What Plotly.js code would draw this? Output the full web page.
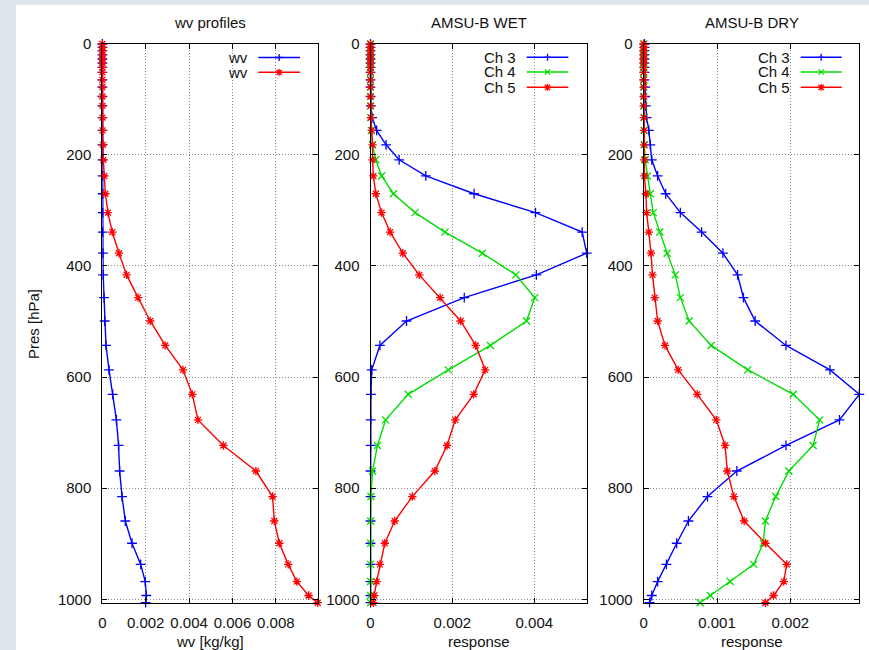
<!DOCTYPE html>
<html>
<head>
<meta charset="utf-8">
<script src="https://cdn.plot.ly/plotly-3.0.1.min.js"></script>
<style>html,body{margin:0;padding:0;background:#dde4ec;}#chart{width:869px;height:650px;}</style>
</head>
<body>
<div id="chart"></div>
<script>
// Pressure levels [hPa]
const pres = [0.5, 6.5, 12.5, 20, 27.5, 35, 42.5, 51.5, 65, 78, 95, 112, 133, 156, 182, 209, 238, 270,
  304, 339, 377, 416, 457, 499, 543, 587, 631, 677, 723, 769, 815, 859, 899, 937, 968, 993, 1006];

// Panel 1: wv profiles [kg/kg]
const wvDry = [0.000003, 0.000003, 0.000003, 0.000003, 0.000003, 0.000003, 0.000003, 0.000003, 0.000003, 0.000004, 0.000004, 0.000005, 0.000006, 0.000008, 0.00001, 0.000012, 0.000015, 0.00002,
  0.00002, 0.00002, 0.00003, 0.00004, 0.00008, 0.00011, 0.00017, 0.00031, 0.00048, 0.00065, 0.00075, 0.0008, 0.00091, 0.00106, 0.00137, 0.00177, 0.00198, 0.00203, 0.002];
const wvWet = [0.000003, 0.000003, 0.000003, 0.000003, 0.000003, 0.000003, 0.000003, 0.000003, 0.000004, 0.000005, 0.000006, 0.000008, 0.00001, 0.000015, 0.00003, 0.00005, 0.00009, 0.00014,
  0.00026, 0.00046, 0.00077, 0.00112, 0.00165, 0.00221, 0.0029, 0.00372, 0.00415, 0.00441, 0.00558, 0.00708, 0.00785, 0.00793, 0.00816, 0.00857, 0.00897, 0.00951, 0.00993];

// Panel 2: AMSU-B WET responses
const wetCh3 = [0, 0, 0, 0, 0, 0, 0, 0, 0, 0, 0.000003, 0.00001, 0.00004, 0.00015, 0.00038, 0.0007, 0.00135, 0.00253,
  0.00403, 0.00517, 0.00528, 0.00405, 0.00229, 0.00088, 0.00023, 0.00003, 0.00001, 0.000005, 0.000003, 0.000002, 0.000002, 0.000001, 0.000001, 0.000001, 0.000001, 0.000001, 0.000001];
const wetCh4 = [0, 0, 0, 0, 0, 0, 0, 0, 0, 0, 0, 0.000002, 0.000005, 0.00002, 0.00005, 0.00013, 0.00027, 0.00056,
  0.00109, 0.00182, 0.00273, 0.00355, 0.00401, 0.00381, 0.00293, 0.0019, 0.00092, 0.00037, 0.00017, 0.00005, 0.00001, 0.000005, 0.000004, 0.000003, 0.000003, 0.000003, 0.000003];
const wetCh5 = [0, 0, 0, 0, 0, 0, 0, 0, 0, 0, 0.000002, 0.000005, 0.00001, 0.00003, 0.00005, 0.00005, 0.00007, 0.00013,
  0.00027, 0.00048, 0.00079, 0.00119, 0.0017, 0.0022, 0.00257, 0.0028, 0.00252, 0.00207, 0.00187, 0.00157, 0.00102, 0.00059, 0.00035, 0.00023, 0.00015, 0.00009, 0.00007];

// Panel 3: AMSU-B DRY responses
const dryCh3 = [0.00001, 0.00001, 0.00001, 0.00001, 0.00001, 0.00001, 0.00001, 0.00001, 0.00001, 0.00002, 0.00002, 0.00003, 0.00004, 0.00007, 0.00009, 0.00011, 0.00019, 0.0003,
  0.0005, 0.00079, 0.00108, 0.00128, 0.00136, 0.00152, 0.00194, 0.00254, 0.00294, 0.00267, 0.00194, 0.00127, 0.00087, 0.00061, 0.00045, 0.00031, 0.00019, 0.00011, 0.00008];
const dryCh4 = [0, 0, 0, 0, 0, 0, 0, 0, 0, 0, 0, 0.000002, 0.000004, 0.000007, 0.00001, 0.00002, 0.00005, 0.00009,
  0.00013, 0.00022, 0.00032, 0.00043, 0.0005, 0.00062, 0.00092, 0.00142, 0.00204, 0.0024, 0.00231, 0.00198, 0.0018, 0.00166, 0.00163, 0.0015, 0.00118, 0.00091, 0.00077];
const dryCh5 = [0, 0, 0, 0, 0, 0, 0, 0, 0, 0, 0, 0, 0.000002, 0.000004, 0.000006, 0.000008, 0.00001, 0.00003,
  0.00004, 0.00007, 0.0001, 0.00012, 0.00015, 0.00019, 0.00029, 0.00047, 0.00073, 0.00099, 0.00111, 0.00114, 0.00123, 0.00137, 0.00166, 0.00195, 0.00191, 0.00177, 0.00166];

const panelTitles = ["wv profiles", "AMSU-B WET", "AMSU-B DRY"];
const xTitles = ["wv [kg/kg]", "response", "response"];
const yTitle = "Pres [hPa]";
const legend1 = ["wv", "wv"];
const legend23 = ["Ch 3", "Ch 4", "Ch 5"];
const xTicks1 = [0, 0.002, 0.004, 0.006, 0.008];
const xTickText1 = ["0", "0.002", "0.004", "0.006", "0.008"];
const xTicks2 = [0, 0.002, 0.004];
const xTickText2 = ["0", "0.002", "0.004"];
const xTicks3 = [0, 0.001, 0.002];
const xTickText3 = ["0", "0.001", "0.002"];
const yTicks = [0, 200, 400, 600, 800, 1000];

const BLUE = '#0000ff', GREEN = '#00dd00', RED = '#ff0000';
const W = 869, H = 650;
const FONT = 'Liberation Sans, Arial, sans-serif';
const TXT = '#111111';
const GRID = '#8c8c8c';

function tr(x, y, xa, ya, color, sym) {
  return {
    x: x, y: y, xaxis: xa, yaxis: ya, type: 'scatter', mode: 'lines+markers',
    line: {color: color, width: 1.4},
    marker: {symbol: sym, size: 7, color: color, line: {color: color, width: 1.3}},
    cliponaxis: false, showlegend: false, hoverinfo: 'skip'
  };
}

const data = [
  tr(wvDry, pres, 'x', 'y', BLUE, 'cross-thin'),
  tr(wvWet, pres, 'x', 'y', RED, 'asterisk'),
  tr(wetCh3, pres, 'x2', 'y2', BLUE, 'cross-thin'),
  tr(wetCh4, pres, 'x2', 'y2', GREEN, 'x-thin'),
  tr(wetCh5, pres, 'x2', 'y2', RED, 'asterisk'),
  tr(dryCh3, pres, 'x3', 'y3', BLUE, 'cross-thin'),
  tr(dryCh4, pres, 'x3', 'y3', GREEN, 'x-thin'),
  tr(dryCh5, pres, 'x3', 'y3', RED, 'asterisk')
];

// panel pixel boxes
const pxBox = [[102.3, 317.7], [370.5, 586.7], [643.7, 859.3]];
const plotTop = 43.7, plotBot = 602.7;
const yDom = [1 - plotBot / H, 1 - plotTop / H];

function xax(i, tv, tt, range, anchor) {
  return {
    domain: [pxBox[i][0] / W, pxBox[i][1] / W], anchor: anchor, range: range,
    tickmode: 'array', tickvals: tv, ticktext: tt,
    ticks: 'inside', ticklen: 5, tickcolor: '#000', mirror: 'allticks',
    showline: true, linecolor: '#000', linewidth: 1,
    showgrid: true, gridcolor: GRID, griddash: '1px,2px', gridwidth: 1,
    zeroline: false, ticklabelstandoff: 6,
    tickfont: {family: FONT, size: 15, color: TXT}
  };
}
function yax(i, anchor) {
  return {
    domain: yDom, anchor: anchor, range: [1006, 0],
    tickmode: 'array', tickvals: yTicks,
    ticks: 'inside', ticklen: 5, tickcolor: '#000', mirror: 'allticks',
    showline: true, linecolor: '#000', linewidth: 1,
    showgrid: true, gridcolor: GRID, griddash: '1px,2px', gridwidth: 1,
    zeroline: false, ticklabelstandoff: 7,
    tickfont: {family: FONT, size: 15, color: TXT}
  };
}

const annotations = [];
const shapes = [];
// white canvas
shapes.push({type: 'rect', xref: 'paper', yref: 'paper', x0: 16 / W, x1: 1, y0: 0, y1: 1 - 5 / H,
  fillcolor: '#ffffff', line: {width: 0}, layer: 'below'});

function ann(text, x, y, opts) {
  annotations.push(Object.assign({text: text, xref: 'paper', yref: 'paper', x: x / W, y: 1 - y / H,
    showarrow: false, font: {family: FONT, size: 15, color: TXT}, xanchor: 'center', yanchor: 'middle'}, opts || {}));
}

for (let i = 0; i < 3; i++) {
  const cx = (pxBox[i][0] + pxBox[i][1]) / 2;
  ann(panelTitles[i], cx, 22);
  ann(xTitles[i], cx, 641);
}
ann(yTitle, 33, 324, {textangle: -90});

function P(x, y) { return (x / W).toFixed(5) + ',' + (1 - y / H).toFixed(5); }
function legendRow(label, textRight, lineX0, lineX1, y, color, sym) {
  ann(label, textRight, y, {xanchor: 'right', height: 13, borderpad: 0});
  shapes.push({type: 'line', xref: 'paper', yref: 'paper', x0: lineX0 / W, x1: lineX1 / W,
    y0: 1 - y / H, y1: 1 - y / H, line: {color: color, width: 1.4}});
  const mx = (lineX0 + lineX1) / 2, s = 3.5;
  let path = '';
  if (sym === '+' || sym === '*') path += 'M' + P(mx - s, y) + 'L' + P(mx + s, y) + 'M' + P(mx, y - s) + 'L' + P(mx, y + s);
  if (sym === 'x' || sym === '*') path += 'M' + P(mx - s * 0.75, y - s * 0.75) + 'L' + P(mx + s * 0.75, y + s * 0.75) + 'M' + P(mx - s * 0.75, y + s * 0.75) + 'L' + P(mx + s * 0.75, y - s * 0.75);
  shapes.push({type: 'path', xref: 'paper', yref: 'paper', path: path, line: {color: color, width: 1.3}});
}
legendRow(legend1[0], 248.5, 258.3, 300, 57.5, BLUE, '+');
legendRow(legend1[1], 248.5, 258.3, 300, 72.3, RED, '*');
const rowsY = [57.3, 72, 87.3];
const legCols = [BLUE, GREEN, RED], legSyms = ['+', 'x', '*'];
for (let k = 0; k < 3; k++) {
  legendRow(legend23[k], 517, 526.7, 568.3, rowsY[k], legCols[k], legSyms[k]);
  legendRow(legend23[k], 791, 800.7, 841.7, rowsY[k], legCols[k], legSyms[k]);
}

const layout = {
  width: W, height: H, margin: {l: 0, r: 0, t: 0, b: 0},
  paper_bgcolor: '#dde4ec', plot_bgcolor: '#ffffff',
  showlegend: false,
  font: {family: FONT, size: 15, color: TXT},
  xaxis: xax(0, xTicks1, xTickText1, [0, 0.00993], 'y'),
  xaxis2: xax(1, xTicks2, xTickText2, [0, 0.00528], 'y2'),
  xaxis3: xax(2, xTicks3, xTickText3, [0, 0.00294], 'y3'),
  yaxis: yax(0, 'x'),
  yaxis2: yax(1, 'x2'),
  yaxis3: yax(2, 'x3'),
  annotations: annotations,
  shapes: shapes
};

Plotly.newPlot('chart', data, layout, {staticPlot: true, displayModeBar: false});
</script>
</body>
</html>
